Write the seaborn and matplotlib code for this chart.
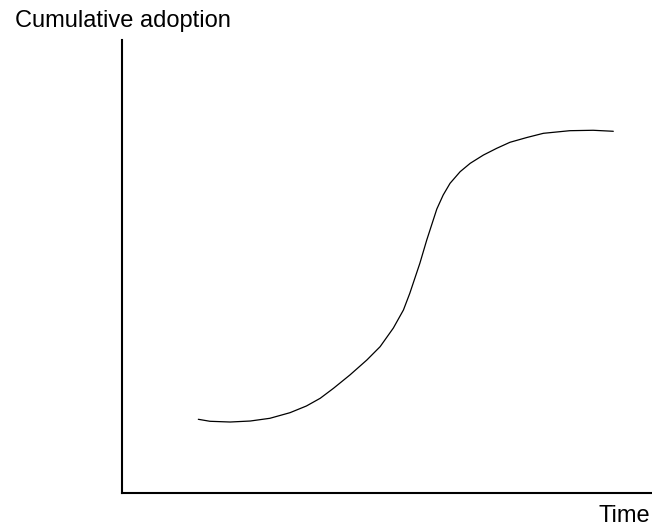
import numpy as np
import pandas as pd
import matplotlib
matplotlib.use("Agg")
import matplotlib.pyplot as plt
import seaborn as sns

# valores (tempo 0-10, adoção 0-100)
tempo = [1.44, 1.66, 2.04, 2.42, 2.79, 3.17, 3.48, 3.74, 3.99, 4.30,
         4.62, 4.87, 5.12, 5.31, 5.43, 5.62, 5.75, 5.94, 6.06, 6.19,
         6.38, 6.57, 6.82, 7.07, 7.32, 7.64, 7.95, 8.45, 8.89, 9.27]
adocao = [16.27, 15.83, 15.67, 15.89, 16.49, 17.73, 19.21, 20.91, 23.11, 26.05,
          29.36, 32.30, 36.42, 40.40, 44.08, 50.71, 55.85, 62.69, 65.78, 68.37,
          70.93, 72.78, 74.61, 76.09, 77.42, 78.48, 79.40, 79.98, 80.07, 79.85]

sns.set_style("white")
plt.rcParams["font.family"] = ["Liberation Sans", "DejaVu Sans"]
plt.rcParams["text.color"] = "black"

df = pd.DataFrame({"Time": tempo, "Adoption": adocao})

fig = plt.figure(figsize=(6.52, 5.27), dpi=100)
ax = fig.add_axes([122 / 652, 34 / 527, 530 / 652, 453 / 527])

sns.lineplot(data=df, x="Time", y="Adoption", color="black",
             linewidth=0.9, ax=ax, sort=False, solid_joinstyle="round")

ax.set_xlim(0, 10)
ax.set_ylim(0, 100)
ax.set_xticks([])
ax.set_yticks([])
ax.set_xlabel("")
ax.set_ylabel("")
for lado in ["top", "right"]:
    ax.spines[lado].set_visible(False)
for lado in ["left", "bottom"]:
    ax.spines[lado].set_color("black")
    ax.spines[lado].set_linewidth(1.5)

fig.text(15 / 652, 1 - 27 / 527, "Cumulative adoption", ha="left",
         va="baseline", fontsize=17, color="black")
fig.text(650 / 652, 1 - 522 / 527, "Time", ha="right",
         va="baseline", fontsize=17, color="black")

fig.savefig("out.png", dpi=100)
